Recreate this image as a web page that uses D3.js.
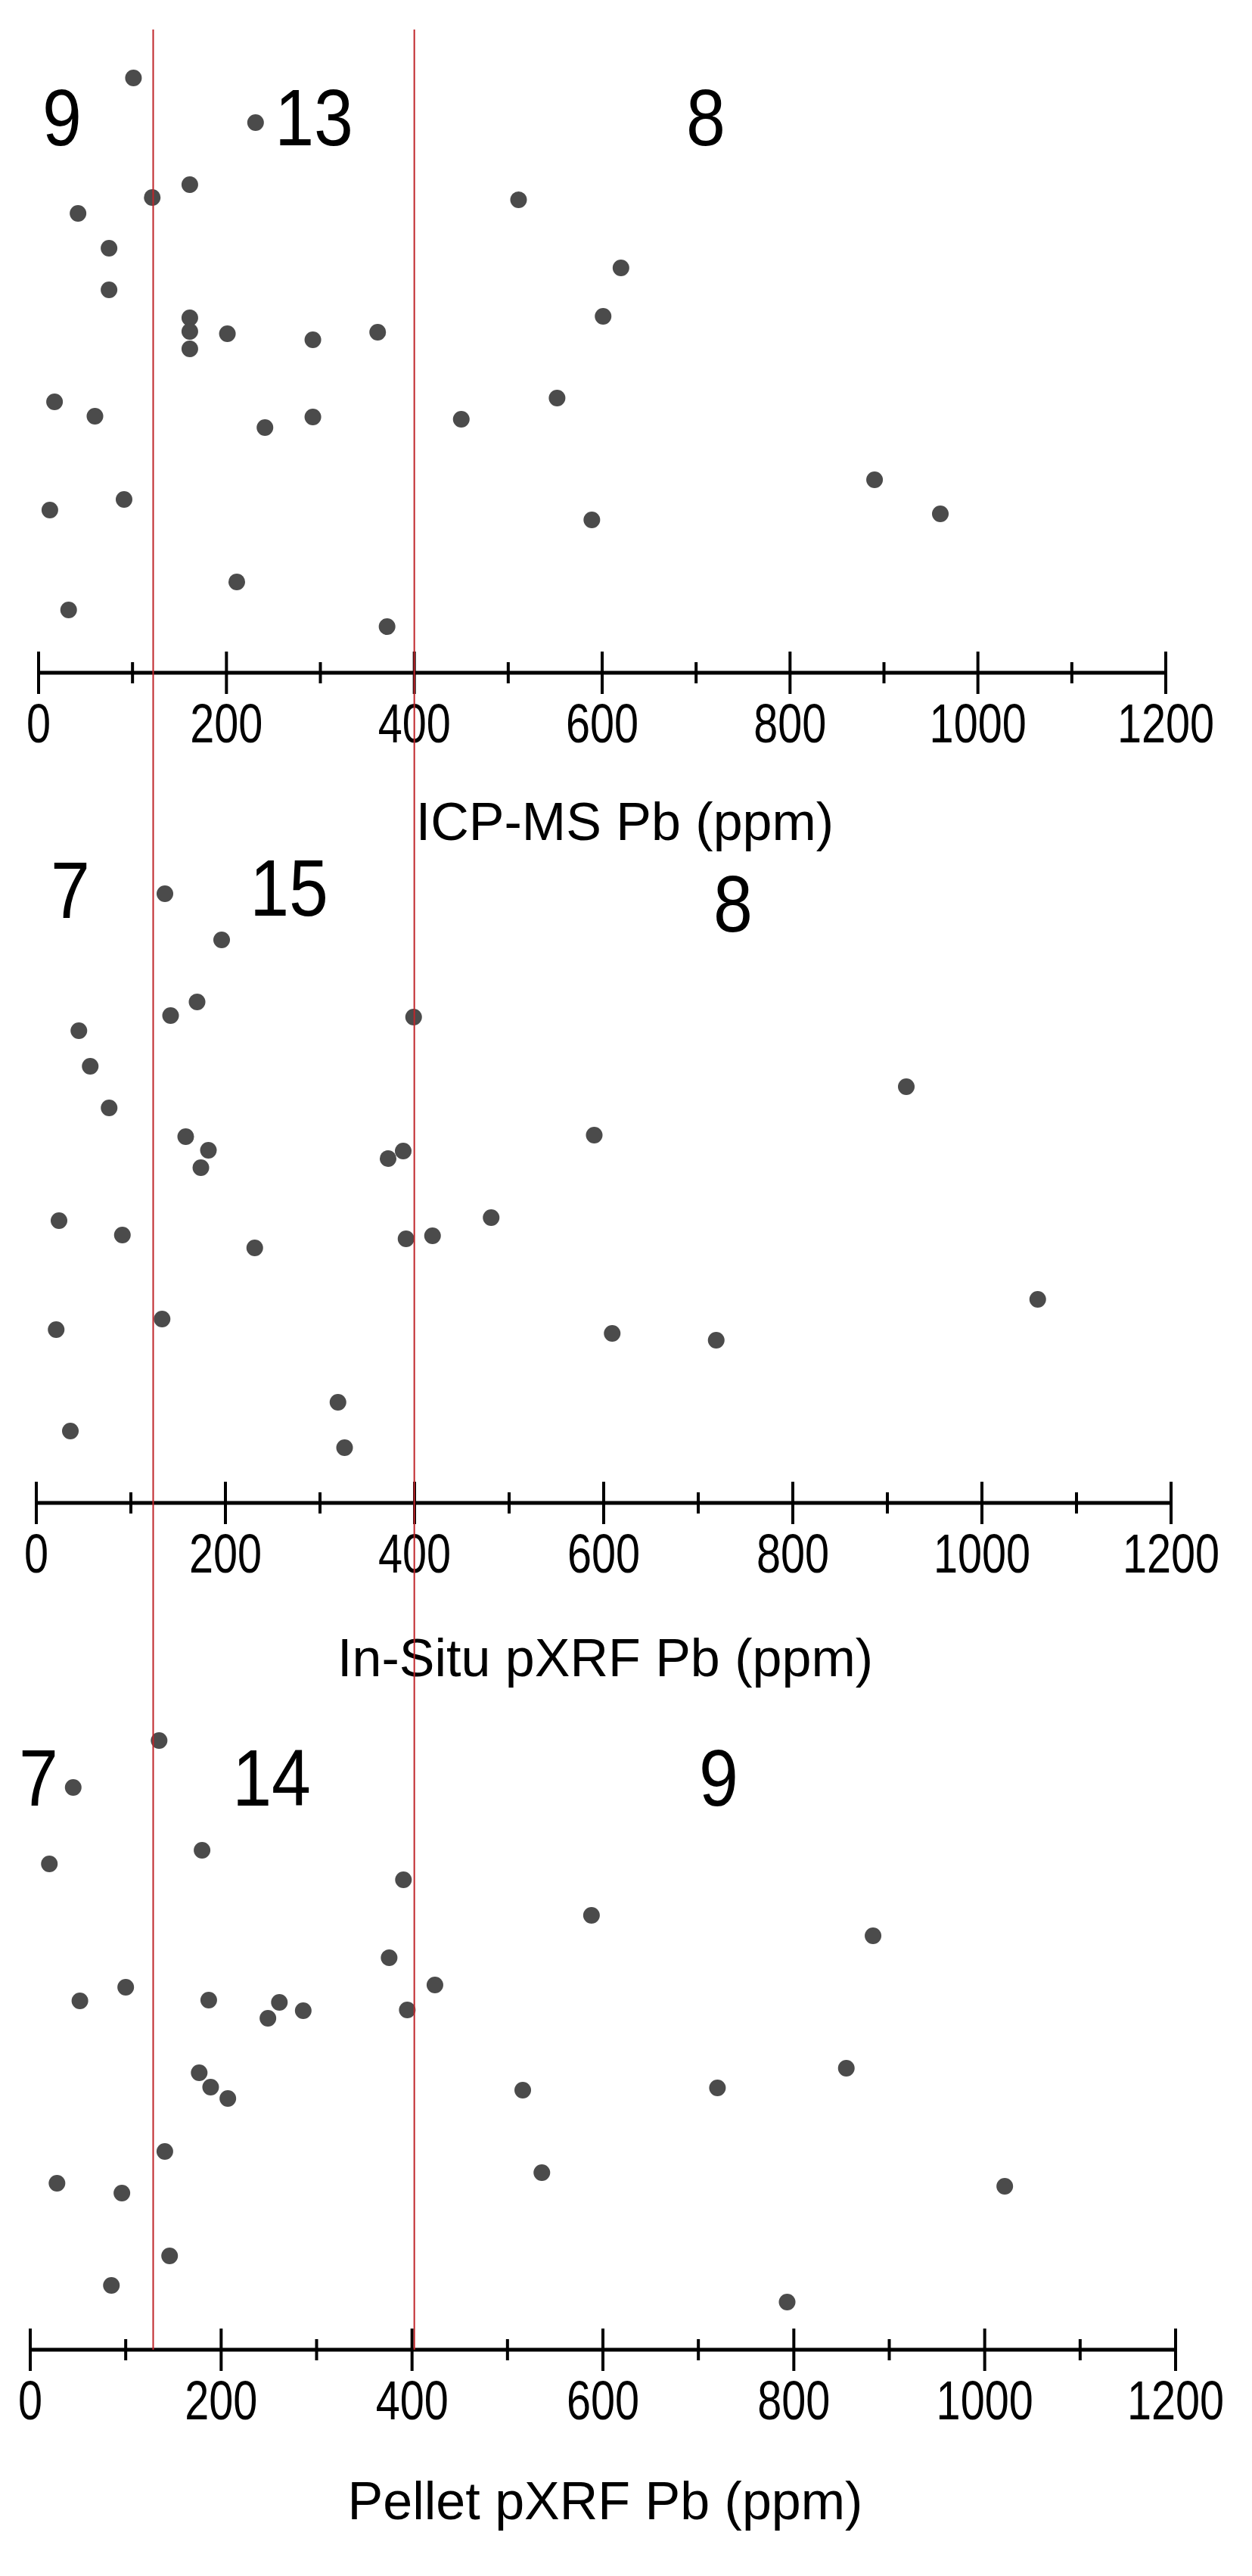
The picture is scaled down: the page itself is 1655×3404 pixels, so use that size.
<!DOCTYPE html>
<html>
<head>
<meta charset="utf-8">
<script src="https://cdn.jsdelivr.net/npm/d3@7"></script>
<style>
  body { margin: 0; background: #fff; }
  text { font-family: "Liberation Sans", Arial, sans-serif; fill: #000; }
</style>
</head>
<body>
<svg id="chart" width="1655" height="3404"></svg>
<script>
// data: [Pb ppm, jitter height above axis]
let icpData = [
    [101,786],[231,727],[161,645],[121,628],[42,607],[511,625],[75,561],[620,535],
    [75,506],[601,471],[161,469],[161,451],[161,428],[201,448],[292,440],[361,450],
    [17,358],[60,339],[552,363],[241,324],[292,338],[450,335],[890,255],[12,215],
    [91,229],[589,202],[960,210],[211,120],[32,83],[371,61]
];
let insituData = [
    [136,805],[196,744],[170,662],[142,644],[399,642],[45,624],[57,577],[77,522],
    [920,550],[590,486],[158,484],[182,466],[174,443],[372,455],[388,465],[24,373],
    [91,354],[231,337],[391,349],[419,353],[481,377],[1059,269],[21,229],[133,243],
    [609,224],[719,215],[319,133],[36,95],[326,73]
];
let pelletData = [
    [135,805],[45,743],[20,642],[180,660],[391,621],[588,574],[883,547],[376,518],
    [424,482],[100,479],[52,461],[187,462],[261,459],[249,438],[286,448],[395,449],
    [177,366],[189,347],[207,332],[516,343],[720,346],[855,372],[141,262],[536,234],
    [28,220],[96,207],[1021,216],[146,124],[85,85],[793,63]
];
let thresholds = [122, 400];
let panelTitles = ["ICP-MS Pb (ppm)", "In-Situ pXRF Pb (ppm)", "Pellet pXRF Pb (ppm)"];
let groupCounts = [["9", "13", "8"], ["7", "15", "8"], ["7", "14", "9"]];
let tickValues = [0, 200, 400, 600, 800, 1000, 1200];

let panels = [
    { data: icpData, axisY: 889, x0: 51, x1: 1541, countPos: [82, 415, 933], titleX: 826, titleY: 1110, numY: [192, 192, 192] },
    { data: insituData, axisY: 1986, x0: 48, x1: 1548, countPos: [93, 382, 969], titleX: 800, titleY: 2215, numY: [1213, 1210, 1231] },
    { data: pelletData, axisY: 3105, x0: 40, x1: 1554, countPos: [51, 359, 950], titleX: 800, titleY: 3329, numY: [2386, 2386, 2386] }
];

let svg = d3.select("#chart");

panels.forEach((p, i) => {
    let x = d3.scaleLinear().domain([0, 1200]).range([p.x0, p.x1]);
    let y = d3.scaleLinear().domain([0, 800]).range([p.axisY, p.axisY - 800]);
    let g = svg.append("g");

    // axis line + ticks
    g.append("line")
        .attr("x1", x(0)).attr("x2", x(1200))
        .attr("y1", p.axisY).attr("y2", p.axisY)
        .attr("stroke", "#000").attr("stroke-width", 5);
    g.selectAll(".tick")
        .data(d3.range(0, 1201, 100))
        .join("line")
        .attr("x1", d => x(d)).attr("x2", d => x(d))
        .attr("y1", d => p.axisY - (d % 200 === 0 ? 28 : 14))
        .attr("y2", d => p.axisY + (d % 200 === 0 ? 28 : 14))
        .attr("stroke", "#000").attr("stroke-width", 4);
    // condensed tick labels
    g.selectAll(".ticklabel")
        .data(tickValues)
        .join("text")
        .attr("transform", d => `translate(${x(d)},${p.axisY + 92}) scale(0.8,1)`)
        .attr("text-anchor", "middle")
        .attr("font-size", 72)
        .text(d => d);

    // title
    g.append("text")
        .attr("x", p.titleX).attr("y", p.titleY)
        .attr("text-anchor", "middle")
        .attr("font-size", 70)
        .text(panelTitles[i]);

    // dots
    g.selectAll("circle")
        .data(p.data)
        .join("circle")
        .attr("cx", d => x(d[0])).attr("cy", d => y(d[1]))
        .attr("r", 11)
        .attr("fill", "#4b4b4b");

    // group counts
    groupCounts[i].forEach((c, j) => {
        g.append("text")
            .attr("transform", `translate(${p.countPos[j]},${p.numY[j]}) scale(0.88,1)`)
            .attr("text-anchor", "middle")
            .attr("font-size", 106)
            .text(c);
    });
});

// threshold lines span all three panels
let xTop = d3.scaleLinear().domain([0, 1200]).range([panels[0].x0, panels[0].x1]);
svg.selectAll(".threshold")
    .data(thresholds)
    .join("line")
    .attr("x1", d => xTop(d)).attr("x2", d => xTop(d))
    .attr("y1", 39).attr("y2", panels[2].axisY)
    .attr("stroke", "#c0262b").attr("stroke-width", 2);
</script>
</body>
</html>
